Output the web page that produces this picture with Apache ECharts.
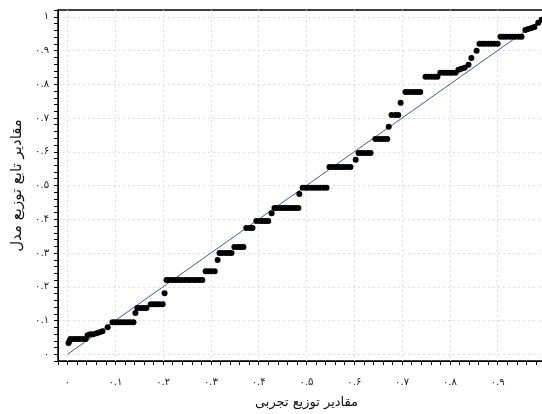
<!DOCTYPE html>
<html>
<head>
<meta charset="utf-8">
<script src="https://cdn.jsdelivr.net/npm/echarts@6/dist/echarts.min.js"></script>
<style>
html, body { margin: 0; padding: 0; background: #fff; }
#chart { width: 542px; height: 414px; }
</style>
</head>
<body>
<div id="chart"></div>
<script>
const empirical = [
  0.002, 0.004,
  0.006, 0.013, 0.019, 0.025, 0.031, 0.038,
  0.042, 0.048, 0.054, 0.061, 0.067, 0.073, 0.084,
  0.094, 0.100, 0.107, 0.113, 0.119, 0.126, 0.132, 0.138,
  0.142,
  0.146, 0.153, 0.159, 0.165,
  0.174, 0.180, 0.186, 0.192, 0.199,
  0.203,
  0.207, 0.213, 0.220, 0.226, 0.232, 0.238, 0.245, 0.251, 0.257, 0.264, 0.270, 0.276, 0.282,
  0.289, 0.295, 0.301, 0.308,
  0.314,
  0.318, 0.324, 0.331, 0.337, 0.343,
  0.349, 0.356, 0.362, 0.368,
  0.374, 0.381, 0.387,
  0.395, 0.402, 0.408, 0.414, 0.420,
  0.427,
  0.433, 0.439, 0.446, 0.452, 0.458, 0.464, 0.471, 0.477, 0.483,
  0.485,
  0.492, 0.498, 0.504, 0.511, 0.517, 0.523, 0.529, 0.536, 0.542,
  0.548, 0.554, 0.561, 0.567, 0.573, 0.579, 0.586, 0.592,
  0.603,
  0.609, 0.615, 0.621, 0.628, 0.634,
  0.644, 0.651, 0.657, 0.663, 0.669,
  0.672,
  0.678, 0.686, 0.692,
  0.697,
  0.707, 0.713, 0.720, 0.726, 0.732, 0.738,
  0.749, 0.755, 0.762, 0.768, 0.774,
  0.780, 0.787, 0.793, 0.799, 0.805, 0.812,
  0.818, 0.824, 0.831, 0.839, 0.845, 0.856,
  0.862, 0.868, 0.874, 0.881, 0.887, 0.893, 0.900,
  0.906, 0.912, 0.918, 0.925, 0.931, 0.937, 0.944, 0.950,
  0.958, 0.964, 0.971, 0.977, 0.985, 0.992
]
const model = [
  0.033, 0.039,
  0.045, 0.045, 0.045, 0.045, 0.045, 0.045,
  0.056, 0.059, 0.059, 0.062, 0.065, 0.068, 0.080,
  0.095, 0.095, 0.095, 0.095, 0.095, 0.095, 0.095, 0.095,
  0.122,
  0.137, 0.137, 0.137, 0.137,
  0.148, 0.148, 0.148, 0.148, 0.148,
  0.181,
  0.220, 0.220, 0.220, 0.220, 0.220, 0.220, 0.220, 0.220, 0.220, 0.220, 0.220, 0.220, 0.220,
  0.246, 0.246, 0.246, 0.246,
  0.279,
  0.300, 0.300, 0.300, 0.300, 0.300,
  0.318, 0.318, 0.318, 0.318,
  0.374, 0.374, 0.374,
  0.395, 0.395, 0.395, 0.395, 0.395,
  0.418,
  0.433, 0.433, 0.433, 0.433, 0.433, 0.433, 0.433, 0.433, 0.433,
  0.475,
  0.493, 0.493, 0.493, 0.493, 0.493, 0.493, 0.493, 0.493, 0.493,
  0.555, 0.555, 0.555, 0.555, 0.555, 0.555, 0.555, 0.555,
  0.576,
  0.596, 0.596, 0.596, 0.596, 0.596,
  0.638, 0.638, 0.638, 0.638, 0.638,
  0.674,
  0.709, 0.709, 0.709,
  0.745,
  0.777, 0.777, 0.777, 0.777, 0.777, 0.777,
  0.822, 0.822, 0.822, 0.822, 0.822,
  0.834, 0.834, 0.834, 0.834, 0.834, 0.834,
  0.843, 0.846, 0.849, 0.858, 0.878, 0.899,
  0.920, 0.920, 0.920, 0.920, 0.920, 0.920, 0.920,
  0.941, 0.941, 0.941, 0.941, 0.941, 0.941, 0.941, 0.941,
  0.961, 0.964, 0.967, 0.970, 0.982, 0.991
]
const refLine = [[0, 0], [1, 1]]
const tickLabels = ['۰', '۰.۱', '۰.۲', '۰.۳', '۰.۴', '۰.۵', '۰.۶', '۰.۷', '۰.۸', '۰.۹', '۱']
const xTitle = 'مقادیر توزیع تجربی'
const yTitle = 'مقادیر تابع توزیع مدل'

const points = empirical.map((x, i) => [x, model[i]])

// only every 5th small tick gets a label and a grid line
function tickLabel(v) {
  let k = Math.round(v * 10)
  if (Math.abs(v * 10 - k) > 1e-6 || k < 0 || k > 10) return ''
  return tickLabels[k]
}
const T = 'rgba(0,0,0,0)'
const G = '#dedede'

function axis(name, gap, margin, nameSize) {
  return {
    type: 'value',
    min: -0.02,
    max: 1.02,
    interval: 0.02,
    name: name,
    nameLocation: 'middle',
    nameGap: gap,
    nameTextStyle: { fontFamily: 'DejaVu Sans', fontSize: nameSize, color: '#111' },
    axisLine: { show: true, onZero: false, lineStyle: { color: '#000', width: 1 } },
    axisTick: { show: true, inside: false, length: 4, lineStyle: { color: '#000' } },
    axisLabel: {
      formatter: tickLabel,
      margin: margin,
      fontFamily: 'DejaVu Sans',
      fontSize: 10,
      color: '#222'
    },
    splitLine: {
      show: true,
      lineStyle: { color: [T, G, T, T, T], type: [2, 3], width: 1 }
    }
  }
}

let chart = echarts.init(document.getElementById('chart'), null, { renderer: 'canvas' })
chart.setOption({
  animation: false,
  backgroundColor: '#fff',
  grid: {
    left: 58,
    right: -13,
    top: 10,
    bottom: 53,
    show: true,
    borderColor: '#000',
    borderWidth: 1.5,
    containLabel: false,
    outerBoundsMode: 'none'
  },
  xAxis: axis(xTitle, 35, 16, 13),
  yAxis: axis(yTitle, 30, 9, 15),
  series: [
    {
      type: 'line',
      data: refLine,
      symbol: 'none',
      lineStyle: { color: '#3f6284', width: 1 },
      z: 3
    },
    {
      type: 'scatter',
      data: points,
      symbol: 'circle',
      symbolSize: 6,
      itemStyle: { color: '#000', opacity: 1 },
      z: 4
    }
  ]
})
</script>
</body>
</html>
